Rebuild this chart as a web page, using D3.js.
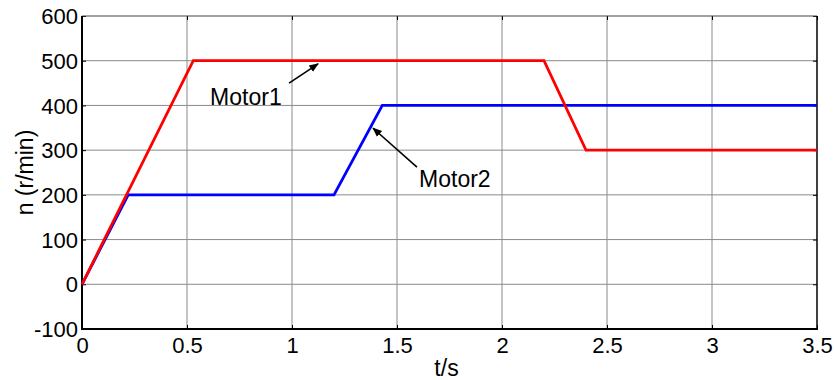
<!DOCTYPE html>
<html>
<head>
<meta charset="utf-8">
<script src="https://cdn.jsdelivr.net/npm/d3@7"></script>
<style>
  body { margin: 0; background: #fff; }
  text { font-family: Arial, "Liberation Sans", sans-serif; fill: #000; }
</style>
</head>
<body>
<script>
// speed curves (t in s, n in r/min)
var time1 = [0, 0.53, 2.2, 2.4, 3.5];
var motor1 = [0, 500, 500, 300, 300];
var time2 = [0, 0.22, 1.2, 1.43, 3.5];
var motor2 = [0, 200, 200, 400, 400];

var xTicks = [0, 0.5, 1, 1.5, 2, 2.5, 3, 3.5];
var yTicks = [-100, 0, 100, 200, 300, 400, 500, 600];

// annotation text + arrow (tail -> tip), data units
var labels = ["Motor1", "Motor2"];
var labelPos = [[0.61, 400], [1.605, 217]];
var arrowFrom = [[0.986, 450], [1.595, 262]];
var arrowTo = [[1.124, 493], [1.386, 349]];

var width = 834, height = 380;
var pl = 82, pr = 817, pt = 16, pb = 329;

var svg = d3.select("body").append("svg")
    .attr("width", width)
    .attr("height", height);

var x = d3.scaleLinear().domain([0, 3.5]).range([pl, pr]);
var y = d3.scaleLinear().domain([-100, 600]).range([pb, pt]);

svg.append("defs").append("marker")
    .attr("id", "arrow")
    .attr("viewBox", "0 0 10 10")
    .attr("refX", 9).attr("refY", 5)
    .attr("markerWidth", 6).attr("markerHeight", 6)
    .attr("orient", "auto")
  .append("path")
    .attr("d", "M0,1 L10,5 L0,9 z")
    .attr("fill", "#000");

// grid
svg.append("g").selectAll("line")
    .data(xTicks.slice(1, -1))
    .enter().append("line")
    .attr("x1", function(d) { return x(d); })
    .attr("x2", function(d) { return x(d); })
    .attr("y1", pt).attr("y2", pb)
    .attr("stroke", "#8a8a8a").attr("stroke-width", 1);

svg.append("g").selectAll("line")
    .data(yTicks.slice(1, -1))
    .enter().append("line")
    .attr("y1", function(d) { return y(d); })
    .attr("y2", function(d) { return y(d); })
    .attr("x1", pl).attr("x2", pr)
    .attr("stroke", "#8a8a8a").attr("stroke-width", 1);

// axes, ticks inward (plain hyphen for negatives like the original)
var fmt = function(d) { return String(d); };
var xAxis = svg.append("g")
    .attr("transform", "translate(0," + pb + ")")
    .call(d3.axisBottom(x).tickValues(xTicks).tickSizeInner(-4).tickSizeOuter(0).tickPadding(8)
      .tickFormat(fmt));
var yAxis = svg.append("g")
    .attr("transform", "translate(" + pl + ",0)")
    .call(d3.axisLeft(y).tickValues(yTicks).tickSizeInner(-4).tickSizeOuter(0).tickPadding(4)
      .tickFormat(fmt));
svg.append("g")
    .attr("transform", "translate(0," + pt + ")")
    .call(d3.axisTop(x).tickValues(xTicks).tickSizeInner(-4).tickSizeOuter(0).tickFormat(""));
svg.append("g")
    .attr("transform", "translate(" + pr + ",0)")
    .call(d3.axisRight(y).tickValues(yTicks).tickSizeInner(-4).tickSizeOuter(0).tickFormat(""));

svg.selectAll(".domain").remove();
svg.selectAll(".tick line").attr("stroke", "#000");
xAxis.selectAll("text").style("font-size", "22px").attr("dy", "0.71em");
yAxis.selectAll("text").style("font-size", "22px").attr("dy", "0.35em");

// frame
svg.append("line").attr("x1", pl).attr("x2", pr).attr("y1", pt).attr("y2", pt)
    .attr("stroke", "#444").attr("stroke-width", 1);
svg.append("line").attr("x1", pr).attr("x2", pr).attr("y1", pt).attr("y2", pb)
    .attr("stroke", "#000").attr("stroke-width", 1.5);
svg.append("line").attr("x1", pl).attr("x2", pl).attr("y1", pt).attr("y2", pb + 1)
    .attr("stroke", "#000").attr("stroke-width", 2);
svg.append("line").attr("x1", pl - 1).attr("x2", pr + 1).attr("y1", pb).attr("y2", pb)
    .attr("stroke", "#000").attr("stroke-width", 2);

// curves
var line = d3.line()
    .x(function(d) { return x(d[0]); })
    .y(function(d) { return y(d[1]); });

svg.append("path")
    .datum(d3.zip(time2, motor2))
    .attr("d", line)
    .attr("fill", "none").attr("stroke", "#0000ff").attr("stroke-width", 2.8);

svg.append("path")
    .datum(d3.zip(time1, motor1))
    .attr("d", line)
    .attr("fill", "none").attr("stroke", "#ff0000").attr("stroke-width", 2.8);

// annotations
svg.selectAll(".lbl")
    .data(labels)
    .enter().append("text")
    .attr("class", "lbl")
    .attr("x", function(d, i) { return x(labelPos[i][0]); })
    .attr("y", function(d, i) { return y(labelPos[i][1]); })
    .style("font-size", "23px")
    .text(function(d) { return d; });

svg.selectAll(".arr")
    .data(labels)
    .enter().append("line")
    .attr("class", "arr")
    .attr("x1", function(d, i) { return x(arrowFrom[i][0]); })
    .attr("y1", function(d, i) { return y(arrowFrom[i][1]); })
    .attr("x2", function(d, i) { return x(arrowTo[i][0]); })
    .attr("y2", function(d, i) { return y(arrowTo[i][1]); })
    .attr("stroke", "#000").attr("stroke-width", 1.6)
    .attr("marker-end", "url(#arrow)");

// axis titles
svg.append("text")
    .attr("x", (pl + pr) / 2 - 3)
    .attr("y", 376)
    .attr("text-anchor", "middle")
    .style("font-size", "23px")
    .text("t/s");

svg.append("text")
    .attr("transform", "translate(33," + ((pt + pb) / 2) + ") rotate(-90)")
    .attr("text-anchor", "middle")
    .style("font-size", "23px")
    .text("n (r/min)");
</script>
</body>
</html>
